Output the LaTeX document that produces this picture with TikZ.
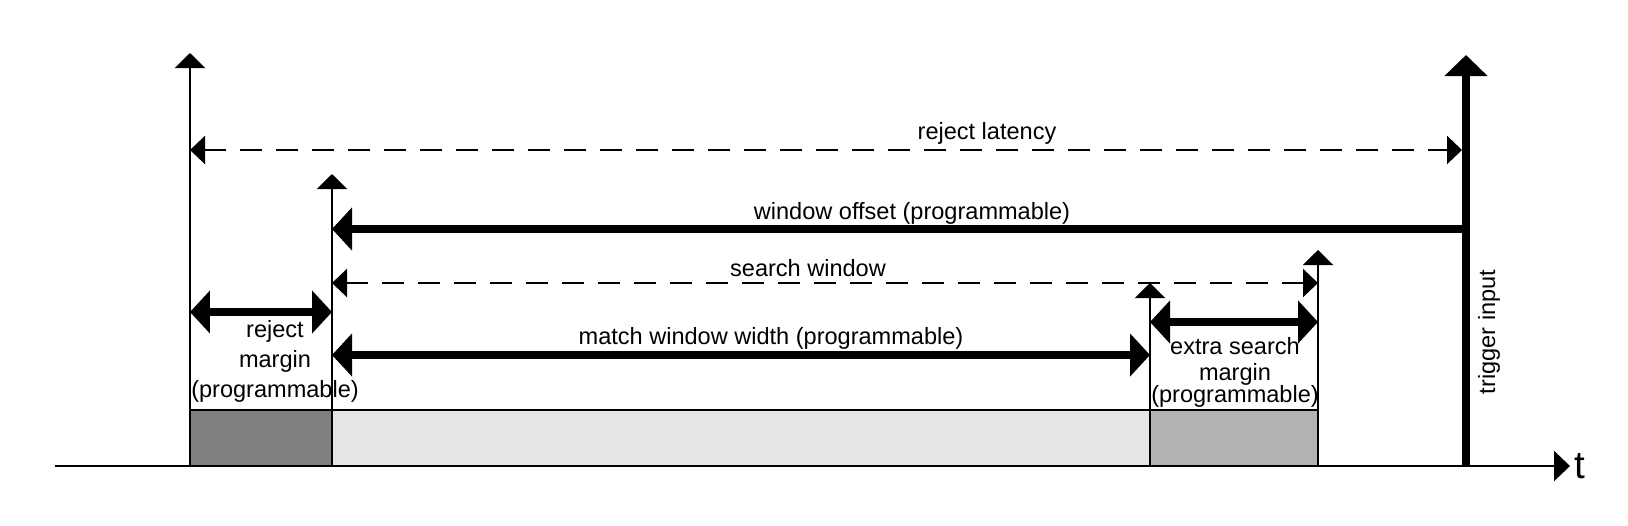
\documentclass[tikz,border=0pt]{standalone}
\usepackage{fontspec}
\setmainfont{Liberation Sans}
\usetikzlibrary{arrows.meta}

\begin{document}
\begin{tikzpicture}[x=0.02cm, y=-0.02cm,
    mline/.style={line width=1.4pt},
    marker/.style={mline, -{Triangle[length=0.3cm,width=0.6cm]}},
    dimdash/.style={mline, dash pattern=on 0.44cm off 0.28cm,
      {Triangle[length=0.3cm,width=0.56cm]}-{Triangle[length=0.3cm,width=0.56cm]}},
    dimbold/.style={line width=4.5pt,
      {Triangle[length=0.4cm,width=0.84cm]}-{Triangle[length=0.4cm,width=0.84cm]}},
    lbl/.style={font=\fontsize{13.4}{17}\selectfont, inner sep=0pt, align=center},
  ]
    \useasboundingbox (0,0) rectangle (1628,525);

    % marks on the time axis
    \coordinate (m0) at (190,466);
    \coordinate (m1) at (332,466);
    \coordinate (m2) at (1150,466);
    \coordinate (m3) at (1318,466);
    \coordinate (trg) at (1466,466);

    % Draw axis
    \draw[mline, -{Triangle[length=0.32cm,width=0.6cm]}] (55,466) -- (1570,466)
        node[right, inner sep=2pt, font=\fontsize{22}{24}\selectfont] (tax) {t};

    % windows
    \filldraw[mline, fill=black!50] (m0) rectangle (m1 |- 0,410);
    \filldraw[mline, fill=black!10] (m1) rectangle (m2 |- 0,410);
    \filldraw[mline, fill=black!30] (m2) rectangle (m3 |- 0,410);

    % Draw markers
    \draw[marker] (m0) -- (m0 |- 0,53);
    \draw[marker] (m1) -- (m1 |- 0,174);
    \draw[marker] (m2) -- (m2 |- 0,283);
    \draw[marker] (m3) -- (m3 |- 0,250);
    \draw[line width=4.5pt, -{Triangle[length=0.42cm,width=0.84cm]}] (trg) -- (trg |- 0,55);

    % intervals
    \draw[dimdash, shorten >=0.08cm] (m0 |- 0,150) -- (trg |- 0,150);
    \draw[line width=4.5pt, -{Triangle[length=0.4cm,width=0.84cm]}] (trg |- 0,229) -- (m1 |- 0,229);
    \draw[dimdash] (m1 |- 0,283) -- (m3 |- 0,283);
    \draw[dimbold] (m0 |- 0,312) -- (m1 |- 0,312);
    \draw[dimbold] (m1 |- 0,355) -- (m2 |- 0,355);
    \draw[dimbold] (m2 |- 0,322) -- (m3 |- 0,322);

    % labels
    \node[lbl] (rlat) at (987,133) {reject latency};
    \node[lbl] (woff) at (912,213) {window offset (programmable)};
    \node[lbl] (swin) at (808,268) {search window};
    \node[lbl] (mwin) at (771,338) {match window width (programmable)};
    \node[lbl, anchor=north] (rmar) at (275,320) {reject\\margin\\(programmable)};
    \node[lbl, anchor=north] (emar) at (1235,337) {extra search\\[-2pt]margin\\[-4.5pt](programmable)};
    \node[lbl, rotate=90] (tin) at (1489,332) {trigger input};
\end{tikzpicture}
\end{document}
